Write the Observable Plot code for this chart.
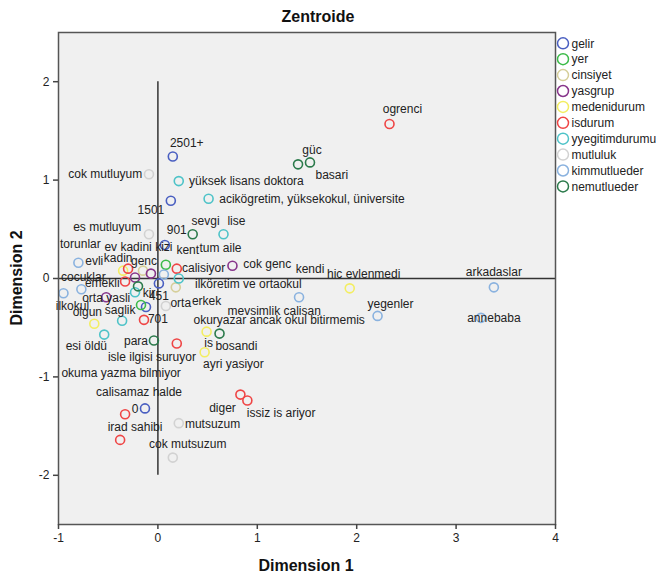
<!DOCTYPE html>
<html>
<head>
<meta charset="utf-8">
<script src="https://cdn.jsdelivr.net/npm/d3@7"></script>
<script src="https://cdn.jsdelivr.net/npm/@observablehq/plot@0.6"></script>
<style>
  html, body { margin: 0; padding: 0; background: #fff; }
  #wrap { position: relative; width: 661px; height: 577px; font-family: "Liberation Sans", Arial, sans-serif; }
  #chart { position: absolute; left: 0; top: 0; }
  .ttl { position: absolute; font-weight: bold; font-size: 16px; color: #111; white-space: nowrap; }
  #legend { position: absolute; left: 553px; top: 30px; }
</style>
</head>
<body>
<div id="wrap">
  <div id="chart"></div>
  <div class="ttl" id="title" style="left:318px; top:8px; transform:translateX(-50%);">Zentroide</div>
  <div class="ttl" id="xlab" style="left:306px; top:557px; transform:translateX(-50%);">Dimension 1</div>
  <div class="ttl" id="ylab" style="left:17px; top:278px; transform:translate(-50%,-50%) rotate(-90deg);">Dimension 2</div>
  <div id="legend"></div>
</div>
<script>
// Groups (variables) and their colours
const groups = ["gelir","yer","cinsiyet","yasgrup","medenidurum","isdurum","yyegitimdurumu","mutluluk","kimmutlueder","nemutlueder"];
const groupColors = ["#4a5fc1","#3dbb4a","#d6cf9a","#87358b","#f3ee62","#ef4545","#4ec3c8","#d2d2d2","#8ab2df","#2b7a4b"];

// Category names, group membership, centroid coordinates
const names = [
  "2501+","1501","901","451","701","0",
  "kent","kir",
  "kadin","erkek",
  "genc","cok genc","orta yasli","olgun",
  "evli","hic evlenmedi","esi öldü","bosandi","ayri yasiyor",
  "ogrenci","calisiyor","ev kadini","emekli","mevsimlik calisan","isle ilgisi suruyor","diger","issiz is ariyor","irad sahibi","calisamaz halde",
  "yüksek lisans doktora","acikögretim, yüksekokul, üniversite","lise","ilköretim ve ortaokul","ilkokul","okuryazar ancak okul bitirmemis","okuma yazma bilmiyor",
  "cok mutluyum","es mutluyum","orta","mutsuzum","cok mutsuzum",
  "arkadaslar","annebaba","yegenler","kendi","torunlar","cocuklar","kizi","tum aile",
  "güc","basari","sevgi","para","is","saglik"
];
const groupOf = [
  "gelir","gelir","gelir","gelir","gelir","gelir",
  "yer","yer",
  "cinsiyet","cinsiyet",
  "yasgrup","yasgrup","yasgrup","yasgrup",
  "medenidurum","medenidurum","medenidurum","medenidurum","medenidurum",
  "isdurum","isdurum","isdurum","isdurum","isdurum","isdurum","isdurum","isdurum","isdurum","isdurum",
  "yyegitimdurumu","yyegitimdurumu","yyegitimdurumu","yyegitimdurumu","yyegitimdurumu","yyegitimdurumu","yyegitimdurumu",
  "mutluluk","mutluluk","mutluluk","mutluluk","mutluluk",
  "kimmutlueder","kimmutlueder","kimmutlueder","kimmutlueder","kimmutlueder","kimmutlueder","kimmutlueder","kimmutlueder",
  "nemutlueder","nemutlueder","nemutlueder","nemutlueder","nemutlueder","nemutlueder"
];
const dim1 = [
  0.15, 0.13, 0.07, 0.01, -0.12, -0.13,
  0.08, -0.17,
  -0.15, 0.18,
  -0.07, 0.75, -0.23, -0.52,
  -0.35, 1.93, -0.64, 0.49, 0.47,
  2.33, 0.19, -0.30, -0.33, -0.14, 0.19, 0.83, 0.90, -0.33, -0.38,
  0.21, 0.51, 0.66, 0.21, -0.23, -0.36, -0.54,
  -0.09, -0.09, 0.08, 0.21, 0.15,
  3.38, 3.25, 2.21, 1.42, -0.80, -0.95, -0.77, 0.06,
  1.53, 1.41, 0.35, -0.04, 0.62, -0.20
];
const dim2 = [
  1.24, 0.79, 0.34, -0.05, -0.29, -1.32,
  0.14, -0.27,
  0.08, -0.09,
  0.05, 0.13, 0.01, -0.19,
  0.08, -0.10, -0.46, -0.54, -0.75,
  1.57, 0.10, 0.10, -0.03, -0.42, -0.66, -1.18, -1.24, -1.38, -1.64,
  0.99, 0.81, 0.45, 0.00, -0.14, -0.43, -0.57,
  1.06, 0.45, -0.28, -1.47, -1.82,
  -0.09, -0.40, -0.38, -0.19, 0.16, -0.15, -0.11, 0.04,
  1.18, 1.16, 0.45, -0.63, -0.56, -0.08
];
// Where each label sits (in the same data units)
const labelDim1 = [
  0.29, -0.07, 0.19, 0.01, 0.00, -0.23,
  0.30, -0.09,
  -0.40, 0.49,
  -0.14, 1.10, -0.52, -0.71,
  -0.64, 2.07, -0.72, 0.79, 0.76,
  2.46, 0.46, -0.30, -0.56, 1.17, -0.06, 0.65, 1.24, -0.23, -0.19,
  0.89, 1.55, 0.79, 0.91, -0.86, 1.22, -0.37,
  -0.53, -0.51, 0.23, 0.55, 0.30,
  3.38, 3.38, 2.34, 1.53, -0.78, -0.75, 0.06, 0.63,
  1.55, 1.75, 0.48, -0.22, 0.51, -0.38
];
const labelDim2 = [
  1.38, 0.69, 0.49, -0.18, -0.41, -1.33,
  0.29, -0.15,
  0.21, -0.23,
  0.18, 0.15, -0.20, -0.34,
  0.18, 0.04, -0.69, -0.69, -0.87,
  1.72, 0.11, 0.32, -0.05, -0.33, -0.80, -1.32, -1.37, -1.51, -1.16,
  0.99, 0.81, 0.58, -0.06, -0.28, -0.42, -0.96,
  1.06, 0.52, -0.25, -1.48, -1.68,
  0.06, -0.40, -0.26, 0.10, 0.35, 0.01, 0.32, 0.31,
  1.30, 1.05, 0.58, -0.64, -0.66, -0.32
];

const xTicks = [-1, 0, 1, 2, 3, 4];
const yTicks = [-2, -1, 0, 1, 2];
const xDomain = [-1, 4];
const yDomain = [-2.5, 2.5];
const refV = [{x: 0, y1: -2, y2: 2}];
const refH = [0];

const rows = names.map((n, i) => ({name: n, group: groupOf[i], x: dim1[i], y: dim2[i], lx: labelDim1[i], ly: labelDim2[i]}));

const chart = Plot.plot({
  width: 661,
  height: 577,
  marginLeft: 58,
  marginRight: 106,
  marginTop: 32,
  marginBottom: 53,
  style: {fontFamily: "'Liberation Sans', Arial, sans-serif", background: "transparent", color: "#222"},
  x: {domain: xDomain},
  y: {domain: yDomain},
  color: {domain: groups, range: groupColors},
  marks: [
    Plot.frame({fill: "#f0f0f0"}),
    Plot.ruleX(refV, {x: "x", y1: "y1", y2: "y2", stroke: "#333", strokeWidth: 1.5}),
    Plot.ruleY(refH, {stroke: "#333", strokeWidth: 1.5}),
    Plot.dot(rows, {x: "x", y: "y", stroke: "group", r: 4.5, strokeWidth: 1.6, fill: "none"}),
    Plot.text(rows, {x: "lx", y: "ly", text: "name", fontSize: 12, fill: "#222"}),
    Plot.frame({stroke: "#555", strokeWidth: 1.5}),
    Plot.axisX({ticks: xTicks, tickFormat: d => String(d), tickSize: 5, tickPadding: 4, fontSize: 12, label: null, stroke: "#444", strokeWidth: 1.5}),
    Plot.axisY({ticks: yTicks, tickFormat: d => String(d), tickSize: 5, tickPadding: 4, fontSize: 12, label: null, stroke: "#444", strokeWidth: 1.5})
  ]
});
document.getElementById("chart").appendChild(chart);

// Legend
const lg = d3.select("#legend").append("svg").attr("width", 108).attr("height", 170);
const item = lg.selectAll("g").data(groups).join("g")
  .attr("transform", (d, i) => `translate(10, ${13.3 + i * 15.9})`);
item.append("circle").attr("r", 5.5).attr("fill", "none").attr("stroke-width", 1.5)
  .attr("stroke", (d, i) => groupColors[i]);
item.append("text").attr("x", 8.5).attr("dy", "0.35em").attr("font-size", 12)
  .attr("font-family", "'Liberation Sans', Arial, sans-serif").attr("fill", "#222").text(d => d);
</script>
</body>
</html>
